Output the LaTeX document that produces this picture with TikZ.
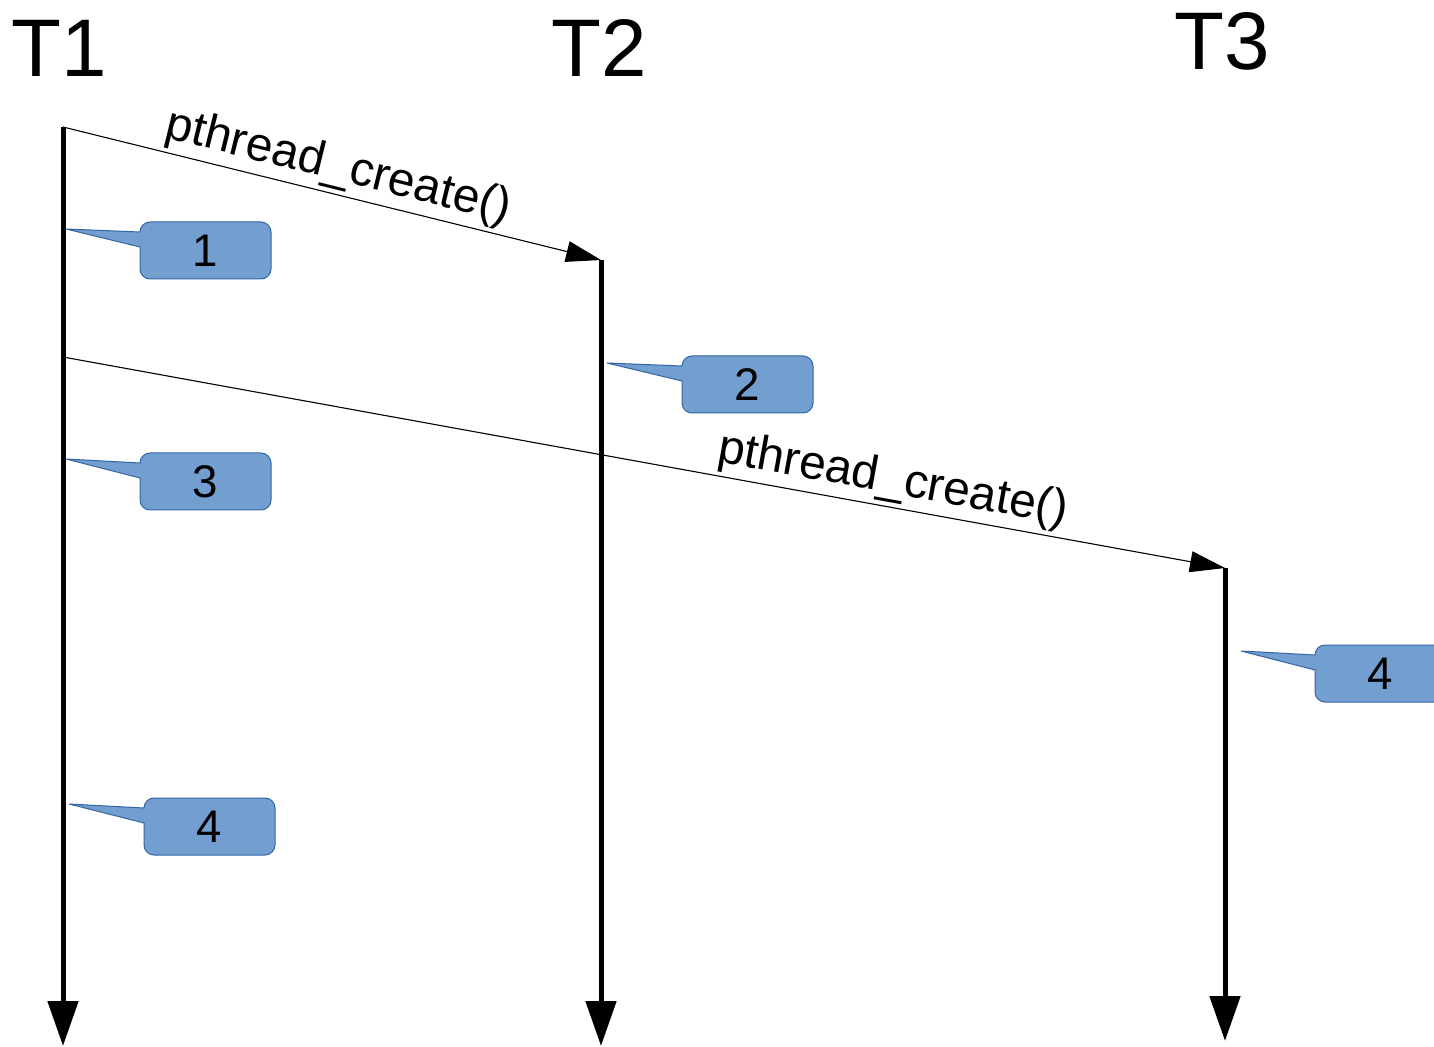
\documentclass[tikz,border=0pt]{standalone}
\usepackage{fontspec}
\setmainfont{Liberation Sans}
\usetikzlibrary{arrows.meta}

\definecolor{calloutfill}{HTML}{729FCF}
\definecolor{calloutedge}{HTML}{3465A4}

\tikzset{
  thread/.style={line width=0.1cm, -{Triangle[length=0.9cm, width=0.6cm]}},
  message/.style={line width=0.022cm, -{Triangle[length=0.7cm, width=0.42cm]}},
  threadname/.style={font=\fontsize{46.5}{50}\selectfont, anchor=base, inner sep=0pt},
  msglabel/.style={font=\fontsize{27.3}{30}\selectfont, sloped, above, inner sep=2pt},
  calloutbody/.style={fill=calloutfill, draw=calloutedge, line width=0.02cm},
  calloutnum/.style={font=\fontsize{26}{30}\selectfont, inner sep=0pt},
}

% \annot{name}{box left}{box top}{tip x}{tip y}{text}
% rounded box 131 x 57 with a sharp tail pointing at a thread
\newcommand{\annot}[6]{%
  \path[calloutbody] (#4,#5) -- (#2,#3+10)
    [rounded corners=0.2cm] -- (#2,#3) -- (#2+131,#3) -- (#2+131,#3+57) -- (#2,#3+57)
    [sharp corners] -- (#2,#3+25) -- cycle;
  \node[calloutnum] (#1) at (#2+65.5,#3+29) {#6};
}

\begin{document}
\begin{tikzpicture}[x=0.02cm, y=-0.02cm]
  \useasboundingbox (0,0) rectangle (1434,1047);
  \clip (0,0) rectangle (1434,1047);

  % thread names
  \node[threadname] (n1) at (59.5,77) {T1};
  \node[threadname] (n2) at (599,77) {T2};
  \node[threadname] (n3) at (1222.5,70) {T3};

  % thread time lines
  \coordinate (t1top) at (63,127);
  \coordinate (t1end) at (63,1046);
  \coordinate (t2top) at (601,260);
  \coordinate (t2end) at (601,1046);
  \coordinate (t3top) at (1225,568);
  \coordinate (t3end) at (1225,1041);
  \coordinate (t1fork) at (63,357);

  \draw[thread] (t1top) -- (t1end);
  \draw[thread] (t2top) -- (t2end);
  \draw[thread] (t3top) -- (t3end);

  % thread creation messages
  \draw[message] (t1top) -- node[msglabel, pos=0.50] {pthread\_create()} (t2top);
  \draw[message] (t1fork) -- node[msglabel, pos=0.71] {pthread\_create()} (t3top);

  % numbered annotations
  \annot{c1}{140}{222}{66}{229}{1}
  \annot{c2}{682}{356}{607}{363}{2}
  \annot{c3}{140}{453}{66}{459}{3}
  \annot{c4}{144}{798}{69}{804}{4}
  \annot{c5}{1315}{645}{1241}{651}{4}
\end{tikzpicture}
\end{document}
